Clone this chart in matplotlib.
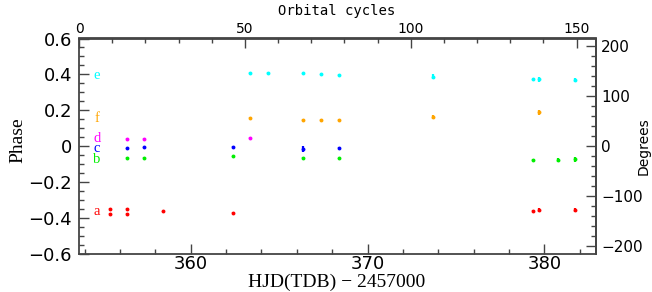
import matplotlib
matplotlib.use("Agg")
import matplotlib.pyplot as plt
from matplotlib.ticker import MultipleLocator, FixedLocator

# Data (HJD - 2457000, phase, phase error)
a_t = [355.42, 355.42, 356.39, 356.39, 358.42, 362.38, 379.38, 379.72, 381.71]
a_p = [-0.349, -0.377, -0.349, -0.377, -0.362, -0.370, -0.359, -0.356, -0.355]
a_e = [0.003, 0.003, 0.003, 0.003, 0.003, 0.003, 0.004, 0.011, 0.011]

b_t = [356.39, 357.36, 362.38, 366.35, 368.39, 379.38, 380.76, 381.71]
b_p = [-0.065, -0.065, -0.056, -0.065, -0.067, -0.076, -0.076, -0.072]
b_e = [0.003, 0.003, 0.003, 0.003, 0.003, 0.004, 0.011, 0.013]

c_t = [356.39, 357.36, 362.38, 366.35, 368.39]
c_p = [-0.011, -0.006, -0.002, -0.017, -0.008]
c_e = [0.003, 0.003, 0.003, 0.017, 0.004]

d_t = [356.39, 357.36, 363.37]
d_p = [0.042, 0.041, 0.046]
d_e = [0.003, 0.003, 0.003]

e_t = [363.37, 364.37, 366.35, 367.34, 368.39, 373.70, 379.38, 379.72, 381.71]
e_p = [0.408, 0.408, 0.406, 0.401, 0.397, 0.388, 0.373, 0.373, 0.369]
e_e = [0.003, 0.003, 0.004, 0.004, 0.004, 0.014, 0.004, 0.013, 0.013]

f_t = [363.37, 366.35, 367.34, 368.39, 373.70, 379.72]
f_p = [0.158, 0.148, 0.146, 0.148, 0.161, 0.189]
f_e = [0.003, 0.006, 0.005, 0.005, 0.012, 0.014]

labels = ["a", "b", "c", "d", "e", "f"]
label_x = 354.70
label_y = [-0.364, -0.072, -0.010, 0.045, 0.393, 0.156]
colors = ["#ff0000", "#00ee00", "#0000ff", "#ff00ff", "#00ffff", "#ffa500"]

series = [(a_t, a_p, a_e), (b_t, b_p, b_e), (c_t, c_p, c_e),
          (d_t, d_p, d_e), (e_t, e_p, e_e), (f_t, f_p, f_e)]

cycle_ticks = [0, 50, 100, 150]
degree_ticks = [-200, -100, 0, 100, 200]
degree_labels = ["\u2212200", "\u2212100", "0", "100", "200"]
phase_ticks = [-0.6, -0.4, -0.2, 0, 0.2, 0.4, 0.6]
phase_labels = ["\u22120.6", "\u22120.4", "\u22120.2", "0", "0.2", "0.4", "0.6"]

T0 = 353.68
PERIOD = 0.1876

W, H = 652, 292
fig = plt.figure(figsize=(W/100, H/100), dpi=100)
ax = fig.add_axes([79/W, 1-254/H, (595.7-79)/W, (254-38.5)/H])

for (t, p, e), col in zip(series, colors):
    ax.errorbar(t, p, yerr=e, fmt='o', color=col, ms=2.8, mew=0,
                elinewidth=1.6, capsize=0, zorder=3)

serif = ["Liberation Serif", "DejaVu Serif"]
for lab, ly, col in zip(labels, label_y, colors):
    ax.text(label_x, ly, lab, color=col, fontsize=10.5, family=serif,
            ha="center", va="center")

ax.set_xlim(353.68, 382.9)
ax.set_ylim(-0.6, 0.6)

spine_col = "#444444"
for s in ax.spines.values():
    s.set_color(spine_col)
    s.set_linewidth(1.3)

ax.xaxis.set_major_locator(MultipleLocator(10))
ax.xaxis.set_minor_locator(MultipleLocator(2))
ax.yaxis.set_minor_locator(MultipleLocator(0.05))
ax.tick_params(which="both", direction="in", color=spine_col, width=1.0,
               right=False, top=False)
ax.tick_params(which="major", length=7, labelsize=13)
ax.tick_params(which="minor", length=3.5)
ax.tick_params(axis="x", pad=1)
ax.tick_params(axis="y", pad=5)

ax.set_yticks(phase_ticks)
ax.set_yticklabels(phase_labels)

fig.text(337/W, 1-282/H, "HJD(TDB) \u2212 2457000", family=serif, fontsize=14,
         ha="center", va="center")
fig.text(18/W, 1-140/H, "Phase", family=serif, fontsize=14, rotation=90,
         ha="center", va="center")

# Top axis: orbital cycles
top = ax.secondary_xaxis("top", functions=(lambda t: (t - T0) / PERIOD,
                                           lambda c: c * PERIOD + T0))
top.xaxis.set_major_locator(FixedLocator(cycle_ticks))
top.xaxis.set_minor_locator(MultipleLocator(10))
top.xaxis.set_tick_params(which="both", direction="in", color=spine_col, width=1.0)
top.xaxis.set_tick_params(which="major", length=7, labelsize=10, pad=2)
top.xaxis.set_tick_params(which="minor", length=3.5)
top.spines["top"].set_color(spine_col)
top.spines["top"].set_linewidth(1.3)
fig.text(337/W, 1-11/H, "Orbital cycles", fontsize=10, family="DejaVu Sans Mono",
         ha="center", va="center")

# Right axis: degrees
right = ax.secondary_yaxis("right", functions=(lambda p: p * 360.0,
                                               lambda d: d / 360.0))
right.yaxis.set_major_locator(FixedLocator(degree_ticks))
right.yaxis.set_minor_locator(MultipleLocator(20))
right.yaxis.set_tick_params(which="both", direction="in", color=spine_col, width=1.0)
right.yaxis.set_tick_params(which="major", length=7, labelsize=11, pad=4)
right.yaxis.set_tick_params(which="minor", length=3.5)
right.set_yticklabels(degree_labels)
right.spines["right"].set_color(spine_col)
right.spines["right"].set_linewidth(1.3)
fig.text(644/W, 1-146/H, "Degrees", fontsize=10, rotation=90,
         ha="center", va="center")

fig.savefig("out.png", dpi=100)
